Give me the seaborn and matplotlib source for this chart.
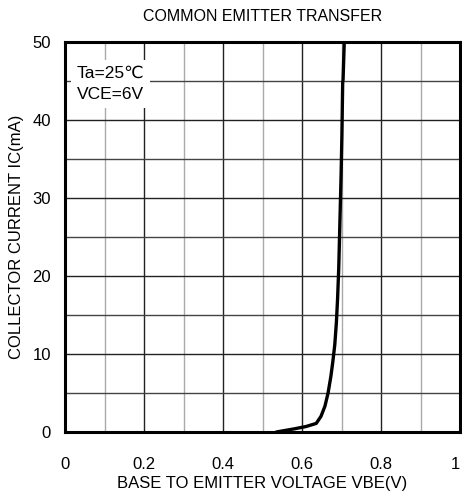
import numpy as np
import pandas as pd
import matplotlib
matplotlib.use("Agg")
import matplotlib.pyplot as plt
import seaborn as sns

# curve
vbe = [0.535, 0.58, 0.61, 0.636, 0.648, 0.658, 0.666, 0.673, 0.678, 0.683, 0.687,
       0.690, 0.693, 0.696, 0.699, 0.701, 0.703, 0.704, 0.707]
ic = [0.0, 0.4, 0.7, 1.1, 2.0, 3.3, 5.0, 7.1, 9.0, 11.2, 14.0,
      17.0, 21.0, 27.0, 33.0, 38.0, 44.8, 45.2, 50.0]

x_ticks = [0, 0.2, 0.4, 0.6, 0.8, 1]
x_labels = ["0", "0.2", "0.4", "0.6", "0.8", "1"]
y_ticks = [0, 10, 20, 30, 40, 50]

df = pd.DataFrame({"vbe": vbe, "ic": ic})

sns.set_style("white")
plt.rcParams['font.family'] = ['Liberation Sans', 'DejaVu Sans']
plt.rcParams['text.color'] = 'black'
plt.rcParams['axes.labelcolor'] = 'black'
plt.rcParams['xtick.color'] = 'black'
plt.rcParams['ytick.color'] = 'black'

fig = plt.figure(figsize=(4.62, 4.93), dpi=100)
ax = fig.add_axes([65 / 462, 61 / 493, 395 / 462, 390 / 493])

# grid: minor every 0.1 / 5, major every 0.2 / 10
for xv in np.arange(0.1, 1.0, 0.1):
    major = round(xv * 10) % 2 == 0
    ax.axvline(xv, color="#222222" if major else "#aaaaaa", lw=1.0, zorder=1)
for yv in range(5, 50, 5):
    ax.axhline(yv, color="#222222" if yv % 10 == 0 else "#444444", lw=1.0, zorder=1)

sns.lineplot(data=df, x="vbe", y="ic", sort=False, color="black", lw=2.4, ax=ax, zorder=3)

ax.set_xlim(0, 1)
ax.set_ylim(0, 50)
ax.set_xticks(x_ticks)
ax.set_xticklabels(x_labels)
ax.get_xticklabels()[-1].set_horizontalalignment("right")
ax.set_yticks(y_ticks)
ax.tick_params(length=0, labelsize=12, pad=18)
ax.tick_params(axis="y", pad=10)
for s in ax.spines.values():
    s.set_linewidth(2.2)
    s.set_color("black")
    s.set_zorder(4)

ax.set_xlabel("BASE TO EMITTER VOLTAGE VBE(V)", fontsize=12, labelpad=3)
ax.set_ylabel("COLLECTOR CURRENT IC(mA)", fontsize=12, labelpad=6)
ax.set_title("COMMON EMITTER TRANSFER", fontsize=11.5, pad=15)

ax.text(0.03, 0.94, "Ta=25℃\nVCE=6V", transform=ax.transAxes, fontsize=12.5,
        va="top", ha="left", linespacing=1.55, zorder=5,
        bbox=dict(facecolor="white", edgecolor="none", pad=4))

fig.savefig("out.png", dpi=100)
